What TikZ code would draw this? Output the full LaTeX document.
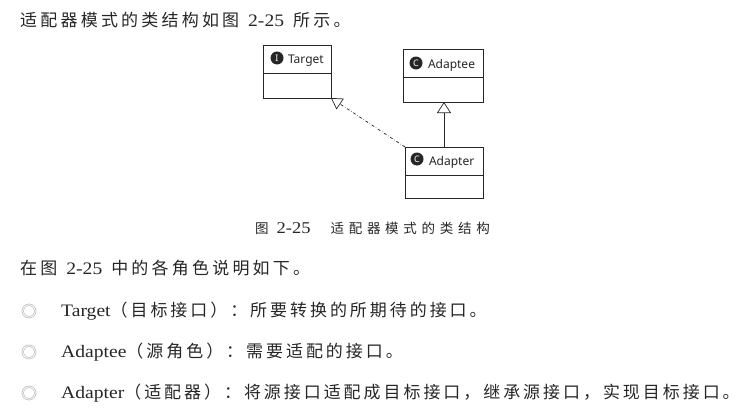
\documentclass[tikz,border=0pt]{standalone}
\usepackage{fontspec}
\setmainfont{Liberation Serif}[FakeStretch=1.12]
\newfontfamily\umlfont{Noto Sans}
\newfontfamily\cjk[Scale=0.97,LetterSpace=19]{Noto Sans CJK SC}
\newfontfamily\cjkrole[Scale=0.97,LetterSpace=17.5]{Noto Sans CJK SC}
\newfontfamily\cjkcap[LetterSpace=35]{Noto Sans CJK SC}
\usetikzlibrary{positioning,arrows.meta}
\definecolor{inkgray}{HTML}{262626}
\begin{document}
\begin{tikzpicture}[x=1pt, y=-1pt, every node/.style={font=\fontsize{17.5}{20}\selectfont, text=inkgray}]
\tikzstyle{classhead}=[rectangle, draw=inkgray, line width=1pt, outer sep=0pt, inner xsep=3pt, minimum height=27pt, text depth=0pt, align=left, font=\umlfont\fontsize{12}{14}\selectfont, anchor=north west]
\tikzstyle{classbody}=[rectangle, draw=inkgray, line width=1pt, outer sep=0pt, minimum height=25pt]
\tikzstyle{icon}=[circle, fill=inkgray, inner sep=0pt, minimum size=13pt, text=white, font=\umlfont\bfseries\fontsize{9}{9}\selectfont]
\tikzstyle{para}=[anchor=west, inner sep=0pt]
\tikzstyle{bullet}=[circle, draw=gray!60, line width=0.6pt, inner sep=0pt, minimum size=12.5pt, double=white, double distance=0.9pt]
\useasboundingbox (0,0) rectangle (751,412);
\node[para] (intro) at (20,20) {{\cjk 适配器模式的类结构如图}\hspace{9pt}2-25\hspace{9pt}{\cjk 所示。}};
% class boxes
\node[classhead, text width=62pt] (targethead) at (263,46) {\hspace{22pt}Target};
\node[classbody, minimum width=68pt, below=0pt of targethead] (targetbody) {};
\node[classhead, text width=74pt] (adapteehead) at (403,50) {\hspace{22pt}Adaptee};
\node[classbody, minimum width=80pt, below=0pt of adapteehead] (adapteebody) {};
\node[classhead, text width=72pt, minimum height=28pt] (adapterhead) at (405,147) {\hspace{21pt}Adapter};
\node[classbody, minimum width=78pt, minimum height=23pt, below=0pt of adapterhead] (adapterbody) {};
\node[icon] (targeticon) at (277,58) {I};
\node[icon] (adapteeicon) at (416,63) {C};
\node[icon] (adaptericon) at (417,159) {C};
\draw[dash dot, line width=0.7pt, draw=inkgray, -{Triangle[open, fill=white, length=11pt, width=13pt, line width=0.7pt]}] (adapterhead.north west) -- (targetbody.south east);
\draw[line width=1pt, draw=inkgray, -{Triangle[open, fill=white, length=11pt, width=14pt, line width=0.7pt]}] (adapterhead.north) -- (adapterhead.north |- adapteebody.south);
% text below
\node[para, font=\fontsize{16.5}{18}\selectfont] (caption) at (255,228) {{\cjkcap\fontsize{13.5}{16}\selectfont 图}\hspace{8pt}2-25\hspace{20pt}{\cjkcap\fontsize{13.5}{16}\selectfont 适配器模式的类结构}};
\node[para] (roles) at (20,268) {{\cjk 在图}\hspace{9pt}2-25\hspace{9pt}{\cjk 中的各角色说明如下。}};
\node[bullet] (bullettarget) at (29,311) {};
\node[para] (roletarget) at (61,311) {Target{\cjkrole （目标接口）：所要转换的所期待的接口。}};
\node[bullet] (bulletadaptee) at (29,352) {};
\node[para] (roleadaptee) at (61,352) {Adaptee{\cjkrole （源角色）：需要适配的接口。}};
\node[bullet] (bulletadapter) at (29,393) {};
\node[para] (roleadapter) at (61,393) {Adapter{\cjkrole （适配器）：将源接口适配成目标接口，继承源接口，实现目标接口。}};
\end{tikzpicture}
\end{document}
